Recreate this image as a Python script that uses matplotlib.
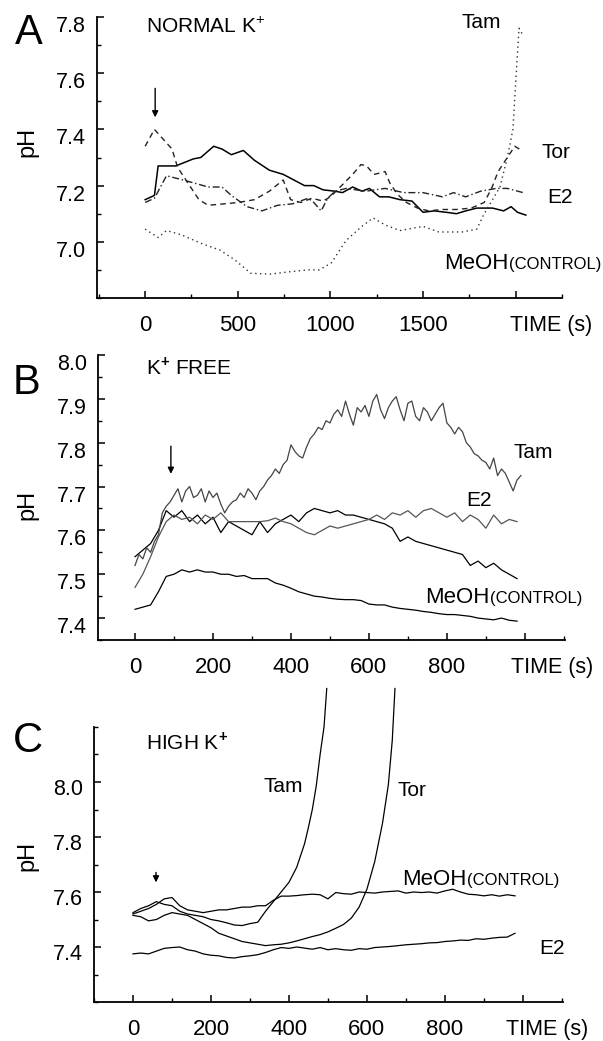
import numpy as np
import matplotlib
matplotlib.use("Agg")
import matplotlib.pyplot as plt
from matplotlib.ticker import MultipleLocator
from matplotlib.transforms import ScaledTranslation

plt.rcParams['font.family'] = ['Liberation Sans', 'DejaVu Sans']
plt.rcParams['mathtext.fontset'] = 'custom'
plt.rcParams['mathtext.rm'] = 'Liberation Sans'
plt.rcParams['mathtext.bf'] = 'Liberation Sans:bold'

# ---- panel A : normal K+ (time in s, pH) ----
a_t_meoh = [0, 50, 70, 165, 260, 300, 370, 415, 465, 530, 590, 670, 745, 860, 910, 960, 1025, 1065,
            1120, 1170, 1210, 1265, 1315, 1375, 1440, 1500, 1560, 1625, 1680, 1730, 1790, 1875, 1935,
            1975, 2010, 2055]
a_meoh = [7.15, 7.165, 7.27, 7.27, 7.295, 7.30, 7.34, 7.33, 7.31, 7.325, 7.29, 7.255, 7.24, 7.20, 7.20,
          7.185, 7.18, 7.175, 7.195, 7.18, 7.19, 7.16, 7.16, 7.15, 7.145, 7.105, 7.11, 7.105, 7.10, 7.11,
          7.12, 7.12, 7.11, 7.125, 7.105, 7.095]
a_t_e2 = [0, 50, 115, 175, 260, 340, 415, 465, 550, 630, 715, 795, 880, 910, 950, 985, 1025, 1085, 1190,
          1295, 1395, 1500, 1605, 1665, 1730, 1810, 1895, 1955, 2040]
a_e2 = [7.14, 7.155, 7.235, 7.225, 7.21, 7.195, 7.195, 7.165, 7.125, 7.11, 7.13, 7.135, 7.155, 7.14, 7.11,
        7.155, 7.18, 7.19, 7.18, 7.19, 7.175, 7.175, 7.16, 7.175, 7.16, 7.18, 7.19, 7.19, 7.175]
a_t_tor = [0, 50, 145, 175, 240, 290, 340, 425, 505, 590, 670, 745, 785, 840, 900, 960, 1000, 1060, 1120,
           1165, 1195, 1235, 1270, 1295, 1320, 1360, 1410, 1470, 1530, 1600, 1680, 1760, 1830, 1870, 1905,
           1935, 1965, 1995, 2020]
a_tor = [7.34, 7.40, 7.33, 7.265, 7.20, 7.15, 7.13, 7.135, 7.14, 7.15, 7.18, 7.22, 7.15, 7.14, 7.155, 7.145,
         7.16, 7.20, 7.24, 7.275, 7.27, 7.24, 7.245, 7.25, 7.21, 7.17, 7.14, 7.12, 7.11, 7.115, 7.115, 7.12,
         7.14, 7.19, 7.25, 7.28, 7.31, 7.34, 7.33]
a_t_tam = [0, 70, 115, 195, 300, 405, 485, 570, 675, 775, 880, 940, 1005, 1085, 1170, 1230, 1295, 1375, 1500,
           1585, 1710, 1790, 1830, 1875, 1915, 1955, 1985, 2005, 2018, 2035]
a_tam = [7.045, 7.015, 7.04, 7.025, 6.995, 6.97, 6.935, 6.888, 6.885, 6.893, 6.90, 6.90, 6.925, 7.005, 7.055,
         7.085, 7.06, 7.04, 7.055, 7.035, 7.035, 7.045, 7.10, 7.15, 7.195, 7.30, 7.40, 7.62, 7.76, 7.74]

# ---- panel B : K+ free ----
b_t_tam = [0, 10, 20, 30, 40, 50, 60, 70, 80, 90, 100, 110, 120, 130, 140, 150, 160, 170, 180, 190,
           200, 210, 220, 230, 240, 250, 260, 270, 280, 290, 300, 310, 320, 330, 340, 350, 360, 370, 380, 390,
           400, 410, 420, 430, 440, 450, 460, 470, 480, 490, 500, 510, 520, 530, 540, 550, 560, 570, 580, 590,
           600, 610, 620, 630, 640, 650, 660, 670, 680, 690, 700, 710, 720, 730, 740, 750, 760, 770, 780, 790,
           800, 810, 820, 830, 840, 850, 860, 870, 880, 890, 900, 910, 920, 930, 940, 950, 960, 970, 980, 990]
b_tam = [7.52, 7.545, 7.535, 7.56, 7.55, 7.575, 7.59, 7.64, 7.655, 7.665,
         7.68, 7.695, 7.665, 7.69, 7.70, 7.675, 7.68, 7.695, 7.665, 7.69,
         7.675, 7.685, 7.66, 7.64, 7.655, 7.665, 7.67, 7.685, 7.675, 7.695,
         7.685, 7.67, 7.69, 7.70, 7.715, 7.725, 7.74, 7.73, 7.75, 7.76,
         7.795, 7.78, 7.77, 7.765, 7.79, 7.81, 7.82, 7.835, 7.83, 7.85,
         7.845, 7.865, 7.875, 7.86, 7.895, 7.865, 7.84, 7.88, 7.87, 7.885,
         7.86, 7.895, 7.91, 7.875, 7.855, 7.88, 7.895, 7.905, 7.875, 7.85,
         7.89, 7.895, 7.86, 7.85, 7.88, 7.87, 7.85, 7.865, 7.88, 7.89,
         7.845, 7.835, 7.82, 7.835, 7.825, 7.80, 7.79, 7.775, 7.77, 7.76,
         7.755, 7.74, 7.765, 7.725, 7.74, 7.73, 7.71, 7.69, 7.715, 7.725]
b_t = [0, 20, 40, 60, 80, 100, 120, 140, 160, 180, 200, 220, 240, 260, 280, 300, 320, 340, 360, 380,
       400, 420, 440, 460, 480, 500, 520, 540, 560, 580, 600, 620, 640, 660, 680, 700, 720, 740, 760, 780,
       800, 820, 840, 860, 880, 900, 920, 940, 960, 980]
b_e2 = [7.47, 7.50, 7.54, 7.585, 7.62, 7.635, 7.625, 7.63, 7.615, 7.635, 7.625, 7.64, 7.62, 7.62, 7.62,
        7.62, 7.62, 7.622, 7.628, 7.62, 7.615, 7.605, 7.595, 7.59, 7.60, 7.61, 7.605, 7.61, 7.615, 7.62,
        7.625, 7.635, 7.625, 7.64, 7.635, 7.645, 7.63, 7.645, 7.65, 7.64, 7.63, 7.64, 7.62, 7.635, 7.625,
        7.605, 7.635, 7.615, 7.625, 7.62]
b_other = [7.54, 7.555, 7.57, 7.60, 7.645, 7.63, 7.645, 7.62, 7.635, 7.615, 7.63, 7.595, 7.62, 7.61, 7.60,
           7.59, 7.62, 7.595, 7.615, 7.625, 7.635, 7.62, 7.64, 7.65, 7.645, 7.64, 7.645, 7.635, 7.635, 7.63,
           7.625, 7.62, 7.615, 7.605, 7.575, 7.585, 7.575, 7.57, 7.565, 7.56, 7.555, 7.55, 7.545, 7.52, 7.53,
           7.515, 7.525, 7.51, 7.50, 7.49]
b_meoh = [7.42, 7.425, 7.43, 7.46, 7.495, 7.50, 7.51, 7.505, 7.51, 7.505, 7.505, 7.50, 7.50, 7.495, 7.497,
          7.49, 7.49, 7.49, 7.48, 7.475, 7.468, 7.46, 7.455, 7.45, 7.448, 7.445, 7.443, 7.442, 7.442, 7.44,
          7.432, 7.43, 7.43, 7.425, 7.422, 7.42, 7.418, 7.415, 7.413, 7.41, 7.408, 7.408, 7.406, 7.404, 7.40,
          7.398, 7.396, 7.40, 7.395, 7.393]

# ---- panel C : high K+ ----
c_t = b_t
c_meoh = [7.52, 7.53, 7.54, 7.555, 7.575, 7.58, 7.55, 7.535, 7.53, 7.525, 7.53, 7.535, 7.535, 7.54, 7.545,
          7.545, 7.55, 7.55, 7.57, 7.585, 7.585, 7.587, 7.59, 7.592, 7.59, 7.575, 7.598, 7.594, 7.592, 7.60,
          7.598, 7.596, 7.60, 7.602, 7.604, 7.596, 7.60, 7.598, 7.60, 7.596, 7.604, 7.61, 7.60, 7.592, 7.59,
          7.586, 7.59, 7.585, 7.59, 7.586]
c_e2 = [7.375, 7.378, 7.375, 7.385, 7.395, 7.398, 7.40, 7.39, 7.385, 7.375, 7.37, 7.368, 7.362, 7.36, 7.365,
        7.368, 7.372, 7.38, 7.39, 7.398, 7.395, 7.40, 7.396, 7.392, 7.398, 7.39, 7.394, 7.39, 7.388, 7.394,
        7.392, 7.398, 7.40, 7.402, 7.405, 7.408, 7.41, 7.412, 7.415, 7.416, 7.42, 7.422, 7.425, 7.424, 7.43,
        7.428, 7.432, 7.435, 7.436, 7.45]
c_t_tam = [0, 20, 40, 60, 80, 100, 120, 140, 160, 180, 200, 220, 240, 260, 280, 300, 320, 340, 360, 380,
           400, 420, 440, 450, 460, 470, 480, 490, 497]
c_tam = [7.525, 7.54, 7.55, 7.565, 7.555, 7.55, 7.53, 7.52, 7.515, 7.51, 7.50, 7.495, 7.488, 7.48, 7.478,
         7.485, 7.49, 7.53, 7.565, 7.60, 7.635, 7.69, 7.775, 7.835, 7.90, 7.985, 8.10, 8.20, 8.34]
c_t_tor = [0, 20, 40, 60, 80, 100, 120, 140, 160, 180, 200, 220, 240, 260, 280, 300, 320, 340, 360, 380,
           400, 420, 440, 460, 480, 500, 520, 540, 560, 580, 600, 620, 640, 655, 665, 672]
c_tor = [7.515, 7.51, 7.495, 7.50, 7.515, 7.525, 7.52, 7.515, 7.50, 7.485, 7.47, 7.45, 7.44, 7.43, 7.42,
         7.415, 7.41, 7.405, 7.408, 7.41, 7.415, 7.422, 7.43, 7.438, 7.445, 7.455, 7.468, 7.482, 7.505,
         7.545, 7.61, 7.71, 7.85, 7.99, 8.15, 8.34]

# drug addition arrows: time, tail pH, tip pH
arrow_t = [54, 92, 59]
arrow_tail = [7.546, 7.792, 7.671]
arrow_tip = [7.443, 7.729, 7.635]

W, H = 603, 1041
fig = plt.figure(figsize=(W / 100, H / 100), dpi=100)


def px_axes(l, t, r, b):
    return fig.add_axes([l / W, 1 - b / H, (r - l) / W, (b - t) / H])


def ftext(x, y, s, **kw):
    kw.setdefault('ha', 'center')
    kw.setdefault('va', 'center')
    kw.setdefault('fontsize', 15)
    return fig.text(x / W, 1 - y / H, s, **kw)


def setup(ax, xlim, ylim, xticks, xlabels, xminor, yticks, yminor, ylab_shift, time_x):
    ax.set_xlim(*xlim)
    ax.set_ylim(*ylim)
    for s in ['top', 'right']:
        ax.spines[s].set_visible(False)
    for s in ['left', 'bottom']:
        ax.spines[s].set_linewidth(1.3)
    ax.set_xticks(xticks, xlabels)
    ax.set_yticks(yticks, ['%.1f' % v for v in yticks])
    ax.xaxis.set_minor_locator(MultipleLocator(xminor))
    ax.yaxis.set_minor_locator(MultipleLocator(yminor))
    ax.tick_params(which='major', direction='in', length=5, width=1.1)
    ax.tick_params(which='minor', direction='in', length=3, width=1.0)
    ax.tick_params(axis='x', pad=12.5, labelsize=16)
    ax.tick_params(axis='y', pad=8, labelsize=15.5)
    off = ScaledTranslation(0, -ylab_shift / 100, fig.dpi_scale_trans)
    for lab in ax.get_yticklabels():
        lab.set_transform(lab.get_transform() + off)
    ax.annotate('TIME (s)', xy=(time_x, 0), xycoords=('data', 'axes fraction'),
                xytext=(0, -12.5), textcoords='offset points', ha='center', va='top',
                fontsize=15.5, annotation_clip=False)


axA = px_axes(97, 17, 562, 298)
axB = px_axes(98, 355, 565, 640)
axC = px_axes(94, 727, 563, 1002)

# panel A
axA.plot(a_t_meoh, a_meoh, color='black', lw=1.1, ls='-')
axA.plot(a_t_e2, a_e2, color='#222222', lw=1.0, ls=(0, (5, 2, 1, 2)))
axA.plot(a_t_tor, a_tor, color='#222222', lw=1.0, ls=(0, (4, 3)))
axA.plot(a_t_tam, a_tam, color='#333333', lw=1.0, ls=(0, (1, 2.5)), clip_on=False)
setup(axA, (-260, 2250), (6.8, 7.8), [0, 500, 1000, 1500, 2000], ['0', '500', '1000', '1500', ''],
      250, [7.0, 7.2, 7.4, 7.6, 7.8], 0.1, 7, 2193)

# panel B
axB.plot(b_t, b_meoh, color='black', lw=0.9)
axB.plot(b_t, b_other, color='black', lw=0.9)
axB.plot(b_t, b_e2, color='#555555', lw=0.9)
axB.plot(b_t_tam, b_tam, color='#444444', lw=0.9)
setup(axB, (-95, 1103), (7.35, 8.0), [0, 200, 400, 600, 800, 1000], ['0', '200', '400', '600', '800', ''],
      100, [7.4, 7.5, 7.6, 7.7, 7.8, 7.9, 8.0], 0.05, 7, 1069)

# panel C
axC.plot(c_t, c_e2, color='black', lw=0.9)
axC.plot(c_t, c_meoh, color='black', lw=0.9)
axC.plot(c_t_tam, c_tam, color='black', lw=0.9, clip_on=False)
axC.plot(c_t_tor, c_tor, color='black', lw=0.9, clip_on=False)
setup(axC, (-100, 1103), (7.2, 8.2), [0, 200, 400, 600, 800, 1000], ['0', '200', '400', '600', '800', ''],
      100, [7.4, 7.6, 7.8, 8.0], 0.1, 5, 1062)

for ax, t, tail, tip in zip([axA, axB, axC], arrow_t, arrow_tail, arrow_tip):
    ax.annotate('', xy=(t, tip), xytext=(t, tail),
                arrowprops=dict(arrowstyle='-|>', color='black', lw=1.0, mutation_scale=9,
                                shrinkA=0, shrinkB=0))

# panel letters, y labels and condition titles
ftext(29, 33, 'A', fontsize=30)
ftext(27, 383, 'B', fontsize=30)
ftext(28, 741, 'C', fontsize=30)
for y in [142, 505, 856]:
    ftext(27, y, 'pH', fontsize=17, rotation=90)
ftext(146, 27, 'NORMAL K$^{+}$', ha='left')
ftext(146, 367, r'K$^{\mathbf{+}}$ FREE', ha='left')
ftext(146, 742, r'HIGH K$^{\mathbf{+}}$', ha='left')

# curve labels
ftext(481, 23, 'Tam')
ftext(556, 152, 'Tor')
ftext(560, 197, 'E2')
ftext(533, 453, 'Tam')
ftext(479, 500, 'E2')
ftext(283, 787, 'Tam')
ftext(412, 790, 'Tor')
ftext(552, 948, 'E2')
for x, y in [(444, 269), (425, 603), (402, 885)]:
    ftext(x, y, 'MeOH', ha='left', va='baseline', fontsize=16)
    fig.text(x / W, 1 - y / H, '(CONTROL)', ha='left', va='baseline', fontsize=12,
             transform=fig.transFigure + ScaledTranslation(46.5 / 72, 0, fig.dpi_scale_trans))

fig.savefig('out.png', dpi=100)
